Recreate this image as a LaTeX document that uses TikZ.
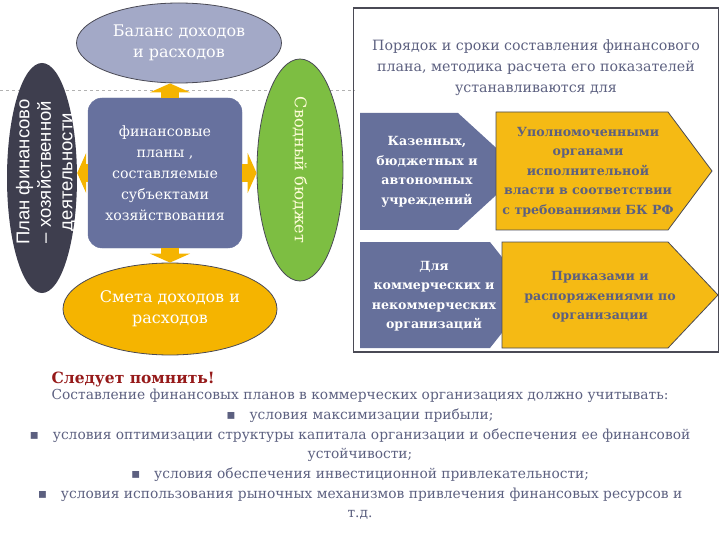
\documentclass[tikz,border=0pt]{standalone}
\usepackage{fontspec}
\setmainfont{DejaVu Serif}
\newfontfamily\plansans{Liberation Sans}
\usetikzlibrary{shapes.geometric,arrows.meta}

\definecolor{balgray}{HTML}{A3A9C7}
\definecolor{plandark}{HTML}{3E3E4E}
\definecolor{boxblue}{HTML}{67719E}
\definecolor{budgreen}{HTML}{7DBE42}
\definecolor{smetagold}{HTML}{F5B400}
\definecolor{pentblue}{HTML}{66709B}
\definecolor{pentgold}{HTML}{F5BA14}
\definecolor{edgegray}{HTML}{4A4A55}
\definecolor{slatetxt}{HTML}{5C6080}
\definecolor{remred}{HTML}{961A1A}

\begin{document}
\begin{tikzpicture}[x=1pt,y=-1pt,
  txt/.style={align=center,font=\fontsize{14.2}{21}\selectfont},
  bigtxt/.style={align=center,font=\fontsize{16}{21}\selectfont},
  bold/.style={align=center,font=\fontsize{12.6}{19.5}\selectfont\bfseries},
  oval/.style={ellipse,draw=edgegray,line width=0.8pt},
  goldarr/.style={draw=smetagold,line width=18pt,-{Triangle[width=40pt,length=9pt]}}]
\useasboundingbox (0,0) rectangle (720,540);

% dashed guide line behind everything
\draw[dashed,gray!60,thin] (0,90) -- (355,90);

% left part
\node at (179,43)[oval,fill=balgray,minimum width=205pt,minimum height=80pt,text=white,bigtxt] (bal) {Баланс доходов\\и расходов};
\node at (42,178)[ellipse,fill=plandark,minimum width=70pt,minimum height=230pt] (plan) {};
\node at (46,172)[rotate=90,text=white,align=center,font=\fontsize{18.5}{21.5}\plansans] (plantext) {План финансово\\– хозяйственной\\деятельности};
\node at (165,173)[rounded corners=14pt,fill=boxblue,draw=boxblue,minimum width=154pt,minimum height=150pt,text=white,txt] (box) {финансовые\\планы ,\\составляемые\\субъектами\\хозяйствования};
\node at (300,170)[oval,rotate=-90,fill=budgreen,minimum width=222pt,minimum height=86pt,text=yellow!15,bigtxt] (budget) {Сводный бюджет};
\node at (170,309)[oval,fill=smetagold,minimum width=214pt,minimum height=92pt,text=white,bigtxt] (smeta) {Смета доходов и\\расходов};

% orange block arrows
\draw[goldarr] ([xshift=5pt]box.north) -- ([xshift=5pt]box.north |- bal.south);
\draw[goldarr] ([xshift=5pt]box.south) -- ([xshift=5pt]box.south |- smeta.north);
\draw[goldarr] (box.west) -- (box.west -| plan.east);
\draw[goldarr] (box.east) -- (box.east -| budget.south);

% right part
\node at (536,180)[draw=edgegray,line width=1.2pt,minimum width=365pt,minimum height=344pt] (frame) {};
\node at (536,68)[txt,text=slatetxt] (order) {Порядок и сроки составления финансового\\плана, методика расчета его показателей\\устанавливаются для};

\fill[pentblue] (360,113) -- (458,113) -- (522,171.5) -- (458,230) -- (360,230) -- cycle;
\filldraw[fill=pentgold,draw=edgegray,line width=0.8pt] (496,112) -- (668,112) -- (712,171) -- (668,230) -- (496,230) -- cycle;
\fill[pentblue] (360,242) -- (490,242) -- (532,295) -- (490,348) -- (360,348) -- cycle;
\filldraw[fill=pentgold,draw=edgegray,line width=0.8pt] (502,242) -- (668,242) -- (718,295) -- (668,348) -- (502,348) -- cycle;

\node at (427,172)[bold,text=white] (kaz) {Казенных,\\бюджетных и\\автономных\\учреждений};
\node at (588,172)[bold,text=slatetxt] (upol) {Уполномоченными\\органами\\исполнительной\\власти в соответствии\\с требованиями БК РФ};
\node at (434,296)[bold,text=white] (kom) {Для\\коммерческих  и\\некоммерческих\\организаций};
\node at (600,297)[bold,text=slatetxt] (prik) {Приказами и\\распоряжениями по\\организации};

% bottom text
\node at (48,383)[anchor=base west,text=remred,font=\fontsize{15.5}{19}\selectfont\bfseries] (remember) {Следует помнить!};
\node at (360,389)[anchor=north,inner sep=0pt,align=center,text=slatetxt,font=\fontsize{13.8}{19.7}\selectfont] (conds) {Составление финансовых планов в коммерческих организациях должно учитывать:\\
▪\quad условия максимизации прибыли;\\
▪\quad условия оптимизации структуры капитала организации и обеспечения ее финансовой\\
устойчивости;\\
▪\quad условия обеспечения инвестиционной привлекательности;\\
▪\quad условия использования рыночных механизмов привлечения финансовых ресурсов и\\
т.д.};
\end{tikzpicture}
\end{document}
